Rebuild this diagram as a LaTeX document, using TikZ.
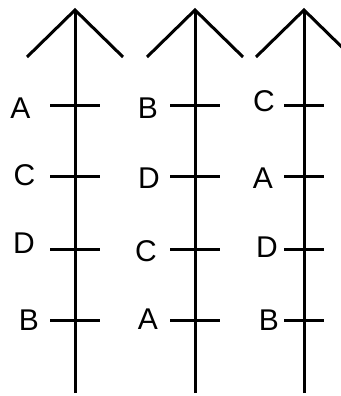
\documentclass[tikz,border=0pt]{standalone}
\usepackage{fontspec}
\setmainfont{Liberation Sans}
\usepackage{tikz}

\begin{document}
\begin{tikzpicture}[x=1pt, y=-1pt, line width=3pt,
        letter/.style={font=\fontsize{30}{36}\selectfont, inner sep=0pt}]
        \useasboundingbox (0,0) rectangle (340,396);

        % Vertical lines with open tips
        \foreach \n/\x in {1/75, 2/195, 3/304} {
            \coordinate (top\n) at (\x,10);
            \coordinate (bot\n) at (\x,393);
            \draw (bot\n) -- (top\n);
            \draw (\x-48,57) -- (top\n) -- (\x+48,57);
        }

        % Ticks
        \foreach \x/\h in {75/25, 195/25, 304/20}
            \foreach \y in {105,176,249,320}
                \draw (\x-\h,\y) -- (\x+\h,\y);

        % Letters
        \foreach \t/\x/\y [count=\i] in {A/20.5/108, C/24.5/175, D/24/243, B/29/320,
                B/148/108, D/149/178, C/146/251, A/148/319,
                C/264/101, A/263/178, D/267/247, B/269/320}
            \node[letter] (l\i) at (\x,\y) {\t};
    \end{tikzpicture}
\end{document}
